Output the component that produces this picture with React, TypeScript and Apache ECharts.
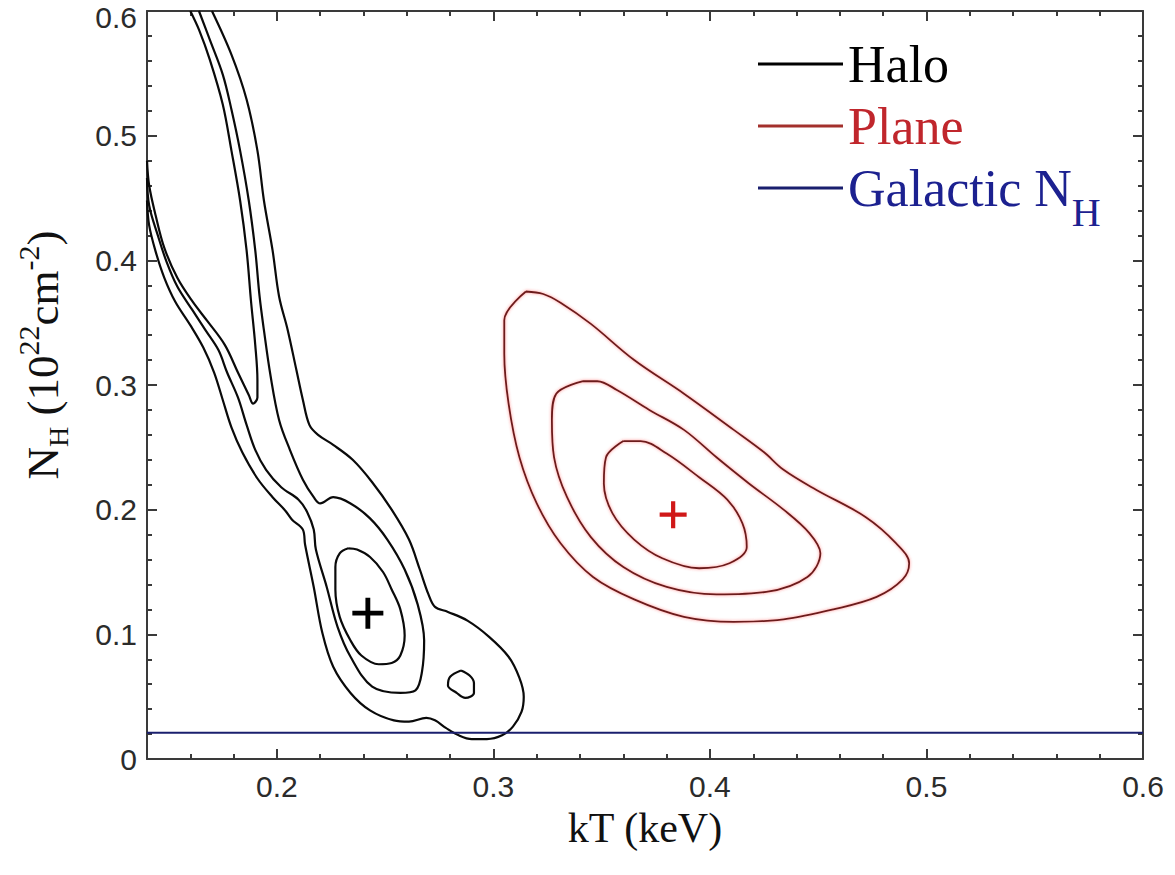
import React, { useEffect, useRef } from "react";
import * as echarts from "echarts";

// ---- axis settings ----
const xMin = 0.14;
const xMax = 0.6;
const xMajorTicks = [0.2, 0.3, 0.4, 0.5, 0.6];
const yMin = 0;
const yMax = 0.6;

// ---- Halo (black) confidence contours, [kT, NH] ----
const halo1Corner = [[0.140,0.480],[0.141,0.460],[0.144,0.436],[0.148,0.410],[0.154,0.386],[0.161,0.367],[0.168,0.351],[0.176,0.332],[0.182,0.310],[0.187,0.292],[0.189,0.285],[0.191,0.290],[0.191,0.304],[0.190,0.332],[0.188,0.368],[0.186,0.408],[0.183,0.448],[0.179,0.488],[0.175,0.525],[0.169,0.561],[0.164,0.585],[0.160,0.600]];
const halo1Core = [[0.233,0.169],[0.229,0.165],[0.227,0.154],[0.227,0.136],[0.229,0.114],[0.234,0.095],[0.239,0.083],[0.247,0.076],[0.253,0.077],[0.257,0.083],[0.259,0.099],[0.257,0.120],[0.253,0.136],[0.249,0.150],[0.243,0.162],[0.237,0.168],[0.233,0.169]];
const halo1Island = [[0.285,0.071],[0.280,0.066],[0.279,0.059],[0.283,0.053],[0.287,0.049],[0.291,0.053],[0.291,0.061],[0.289,0.067],[0.285,0.071]];
const halo2 = [[0.140,0.466],[0.141,0.444],[0.145,0.420],[0.149,0.399],[0.154,0.379],[0.161,0.360],[0.167,0.344],[0.173,0.328],[0.177,0.310],[0.182,0.290],[0.186,0.268],[0.190,0.248],[0.195,0.232],[0.202,0.218],[0.210,0.208],[0.214,0.198],[0.217,0.184],[0.218,0.168],[0.223,0.138],[0.228,0.106],[0.234,0.082],[0.244,0.058],[0.257,0.053],[0.264,0.055],[0.267,0.070],[0.268,0.095],[0.265,0.124],[0.259,0.152],[0.251,0.176],[0.243,0.193],[0.234,0.205],[0.226,0.210],[0.220,0.205],[0.217,0.210],[0.212,0.224],[0.206,0.248],[0.201,0.272],[0.197,0.308],[0.194,0.344],[0.192,0.371],[0.190,0.408],[0.187,0.448],[0.183,0.488],[0.179,0.521],[0.175,0.549],[0.169,0.577],[0.164,0.600]];
const halo3 = [[0.140,0.448],[0.141,0.428],[0.144,0.407],[0.148,0.386],[0.153,0.367],[0.160,0.348],[0.166,0.330],[0.171,0.310],[0.175,0.288],[0.179,0.266],[0.184,0.246],[0.191,0.225],[0.198,0.210],[0.204,0.199],[0.207,0.192],[0.212,0.184],[0.213,0.172],[0.217,0.138],[0.221,0.101],[0.226,0.074],[0.234,0.053],[0.243,0.039],[0.254,0.031],[0.261,0.030],[0.269,0.033],[0.273,0.031],[0.278,0.025],[0.284,0.019],[0.290,0.016],[0.297,0.016],[0.304,0.019],[0.309,0.026],[0.313,0.038],[0.314,0.050],[0.312,0.065],[0.307,0.082],[0.298,0.098],[0.288,0.111],[0.279,0.118],[0.273,0.122],[0.270,0.132],[0.266,0.152],[0.261,0.176],[0.253,0.200],[0.244,0.222],[0.235,0.240],[0.226,0.252],[0.219,0.260],[0.215,0.268],[0.212,0.288],[0.209,0.312],[0.205,0.344],[0.201,0.371],[0.198,0.408],[0.194,0.448],[0.191,0.488],[0.186,0.529],[0.179,0.565],[0.170,0.600]];

// ---- Plane (red) confidence contours ----
const plane1 = [[0.360,0.255],[0.352,0.242],[0.351,0.221],[0.355,0.197],[0.365,0.176],[0.378,0.161],[0.395,0.153],[0.409,0.157],[0.417,0.170],[0.415,0.189],[0.408,0.208],[0.395,0.226],[0.380,0.245],[0.368,0.255],[0.360,0.255]];
const plane2 = [[0.341,0.303],[0.329,0.293],[0.327,0.272],[0.328,0.242],[0.334,0.210],[0.345,0.178],[0.360,0.154],[0.380,0.138],[0.403,0.132],[0.426,0.134],[0.445,0.146],[0.451,0.165],[0.446,0.181],[0.434,0.200],[0.418,0.221],[0.403,0.242],[0.388,0.264],[0.372,0.280],[0.357,0.296],[0.348,0.303],[0.341,0.303]];
const plane3 = [[0.315,0.375],[0.305,0.352],[0.305,0.325],[0.307,0.285],[0.312,0.242],[0.320,0.205],[0.331,0.173],[0.346,0.146],[0.365,0.128],[0.388,0.114],[0.411,0.110],[0.434,0.112],[0.457,0.120],[0.477,0.130],[0.489,0.144],[0.492,0.157],[0.486,0.173],[0.472,0.194],[0.449,0.216],[0.434,0.232],[0.425,0.246],[0.411,0.264],[0.388,0.293],[0.365,0.320],[0.345,0.349],[0.331,0.366],[0.323,0.373],[0.315,0.375]];

// ---- best fits and Galactic column ----
const haloBest = [[0.242, 0.117]];
const planeBest = [[0.383, 0.196]];
const galacticNH = [[0.14, 0.021], [0.6, 0.021]];

const legendNames = ["Halo", "Plane", "Galactic NH"];

const SERIF = "'Liberation Serif', 'Times New Roman', serif";
const SANS = "'Liberation Sans', Arial, Helvetica, sans-serif";
const AXIS = "#3a3a3a";
const PLUS = "path://M13.5,0H18.5V13.5H32V18.5H18.5V32H13.5V18.5H0V13.5H13.5Z";

function contour(name: string, data: number[][], stroke: string, legendColor: string, width: number, glow: boolean) {
  return {
    type: "line",
    name,
    data,
    xAxisIndex: 0,
    yAxisIndex: 0,
    smooth: 0.35,
    showSymbol: false,
    symbol: "none",
    silent: true,
    z: 3,
    itemStyle: { color: legendColor },
    lineStyle: glow
      ? { color: stroke, width, shadowColor: "rgba(255,60,60,0.6)", shadowBlur: 3 }
      : { color: stroke, width },
  };
}

function buildOption() {
  const majorX = {
    type: "value",
    min: xMin,
    max: xMax,
    splitLine: { show: false },
    axisLine: { show: true, onZero: false, lineStyle: { color: AXIS, width: 2 } },
    axisTick: { show: true, inside: true, length: 10, customValues: xMajorTicks, lineStyle: { color: AXIS, width: 2 } },
  };
  const minorX = {
    type: "value",
    gridIndex: 1,
    min: xMin,
    max: xMax,
    interval: 0.02,
    splitLine: { show: false },
    axisLine: { show: false, onZero: false },
    axisLabel: { show: false },
    axisTick: { show: true, inside: true, length: 5, lineStyle: { color: AXIS, width: 2 } },
  };
  const yBase = {
    type: "value",
    min: yMin,
    max: yMax,
    interval: 0.1,
    splitLine: { show: false },
    axisLine: { show: true, onZero: false, lineStyle: { color: AXIS, width: 2 } },
    axisTick: { show: true, inside: true, length: 10, lineStyle: { color: AXIS, width: 2 } },
    minorTick: { show: true, splitNumber: 5, length: 5, lineStyle: { color: AXIS, width: 2 } },
    minorSplitLine: { show: false },
  };

  return {
    animation: false,
    backgroundColor: "#ffffff",
    grid: [
      { left: 147, top: 11, width: 996, height: 748, containLabel: false, outerBoundsMode: "none" },
      { left: 147, top: 11, width: 996, height: 748, containLabel: false, outerBoundsMode: "none" },
    ],
    legend: {
      orient: "vertical",
      left: 753,
      top: 33,
      itemWidth: 85,
      itemHeight: 3,
      itemGap: 10,
      icon: "rect",
      selectedMode: false,
      formatter: (name: string) => (name === "Galactic NH" ? "Galactic N{sub|H}" : name),
      textStyle: {
        fontFamily: SERIF,
        fontSize: 52,
        lineHeight: 52,
        rich: {
          sub: { fontFamily: SERIF, fontSize: 40, lineHeight: 8, verticalAlign: "top", padding: [30, 0, 0, 0] },
        },
      },
      data: [
        { name: legendNames[0], textStyle: { color: "#000000" } },
        { name: legendNames[1], textStyle: { color: "#c0262c" } },
        { name: legendNames[2], textStyle: { color: "#1c2190" } },
      ],
    },
    xAxis: [
      {
        ...majorX,
        gridIndex: 0,
        position: "bottom",
        axisLabel: {
          show: true,
          customValues: xMajorTicks,
          formatter: (v: number) => v.toFixed(1),
          margin: 15,
          fontFamily: SANS,
          fontSize: 30,
          lineHeight: 24,
          color: "#2b2b2b",
        },
        name: "kT (keV)",
        nameLocation: "middle",
        nameGap: 48,
        nameMoveOverlap: false,
        nameTextStyle: { fontFamily: SERIF, fontSize: 42, color: "#111111" },
      },
      { ...majorX, gridIndex: 0, position: "top", axisLabel: { show: false } },
      { ...minorX, position: "bottom" },
      { ...minorX, position: "top" },
    ],
    yAxis: [
      {
        ...yBase,
        gridIndex: 0,
        position: "left",
        axisLabel: {
          show: true,
          formatter: (v: number) => (v === 0 ? "0" : v >= 0.6 ? "{top|0.6}" : v.toFixed(1)),
          margin: 10,
          fontFamily: SANS,
          fontSize: 30,
          lineHeight: 22,
          color: "#2b2b2b",
          rich: {
            top: { fontFamily: SANS, fontSize: 30, lineHeight: 22, color: "#2b2b2b", padding: [12, 0, 0, 0] },
          },
        },
        name: "{n|N}{sub|H}{n| (10}{sup|22}{n|cm}{sup|-2}{n|)}",
        nameLocation: "middle",
        nameRotate: 90,
        nameGap: 78,
        nameTextStyle: {
          color: "#111111",
          fontFamily: SERIF,
          fontSize: 45,
          lineHeight: 52,
          padding: [0, 0, 0, 60],
          rich: {
            n: { fontFamily: SERIF, fontSize: 45, lineHeight: 52, verticalAlign: "middle", color: "#111111" },
            sub: { fontFamily: SERIF, fontSize: 28, lineHeight: 8, verticalAlign: "top", padding: [27, 0, 0, 0], color: "#111111" },
            sup: { fontFamily: SERIF, fontSize: 30, lineHeight: 8, verticalAlign: "top", padding: [-4, 0, 0, 0], color: "#111111" },
          },
        },
      },
      { ...yBase, gridIndex: 0, position: "right", axisLabel: { show: false } },
      { type: "value", gridIndex: 1, min: yMin, max: yMax, show: false },
    ],
    series: [
      contour("Halo", halo3, "#0a0a0a", "#000000", 2.2, false),
      contour("Halo", halo2, "#0a0a0a", "#000000", 2.2, false),
      contour("Halo", halo1Corner, "#0a0a0a", "#000000", 2.2, false),
      contour("Halo", halo1Core, "#0a0a0a", "#000000", 2.2, false),
      contour("Halo", halo1Island, "#0a0a0a", "#000000", 2.2, false),
      contour("Plane", plane3, "#6a1c1c", "#a3302c", 1.8, true),
      contour("Plane", plane2, "#6a1c1c", "#a3302c", 1.8, true),
      contour("Plane", plane1, "#6a1c1c", "#a3302c", 1.8, true),
      {
        type: "line",
        name: "Galactic NH",
        data: galacticNH,
        xAxisIndex: 0,
        yAxisIndex: 0,
        showSymbol: false,
        symbol: "none",
        silent: true,
        z: 4,
        itemStyle: { color: "#1a1f6e" },
        lineStyle: { color: "#1a1f6e", width: 2 },
      },
      {
        type: "scatter",
        name: "Halo best fit",
        data: haloBest,
        xAxisIndex: 0,
        yAxisIndex: 0,
        symbol: PLUS,
        symbolSize: 31,
        silent: true,
        z: 6,
        itemStyle: { color: "#000000", opacity: 1 },
      },
      {
        type: "scatter",
        name: "Plane best fit",
        data: planeBest,
        xAxisIndex: 0,
        yAxisIndex: 0,
        symbol: PLUS,
        symbolSize: 27,
        silent: true,
        z: 6,
        itemStyle: { color: "#d01818", opacity: 1 },
      },
    ],
  };
}

export default function App() {
  const ref = useRef<HTMLDivElement>(null);
  useEffect(() => {
    if (!ref.current) return;
    const chart = echarts.init(ref.current, null, { renderer: "svg" });
    chart.setOption(buildOption() as any);
    return () => chart.dispose();
  }, []);
  return (
    <div
      ref={ref}
      style={{ position: "absolute", left: 0, top: 0, width: 1175, height: 875, background: "#ffffff" }}
    />
  );
}
